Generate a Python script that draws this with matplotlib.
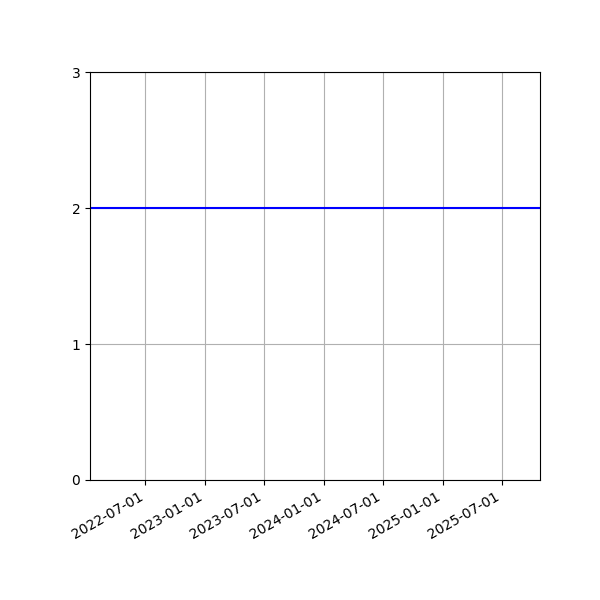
import matplotlib
matplotlib.use("Agg")
import matplotlib.pyplot as plt
import matplotlib.dates as mdates
import pandas as pd

dates = ["2022-01-12", "2025-10-26"]
values = [2, 2]
y_ticks = [0, 1, 2, 3]

x = pd.to_datetime(dates)
fig, ax = plt.subplots(figsize=(6, 6), dpi=100)
ax.plot(x, values, color="blue", linewidth=1.5)
ax.set_xlim(x[0], x[-1])
ax.set_ylim(0, 3)
ax.set_yticks(y_ticks)
ax.xaxis.set_major_locator(mdates.MonthLocator(bymonth=[1, 7]))
ax.xaxis.set_major_formatter(mdates.DateFormatter("%Y-%m-%d"))
ax.grid(True)
fig.autofmt_xdate()
fig.subplots_adjust(left=0.15, right=0.9, top=0.88, bottom=0.2)
fig.savefig("out.png", dpi=100)
